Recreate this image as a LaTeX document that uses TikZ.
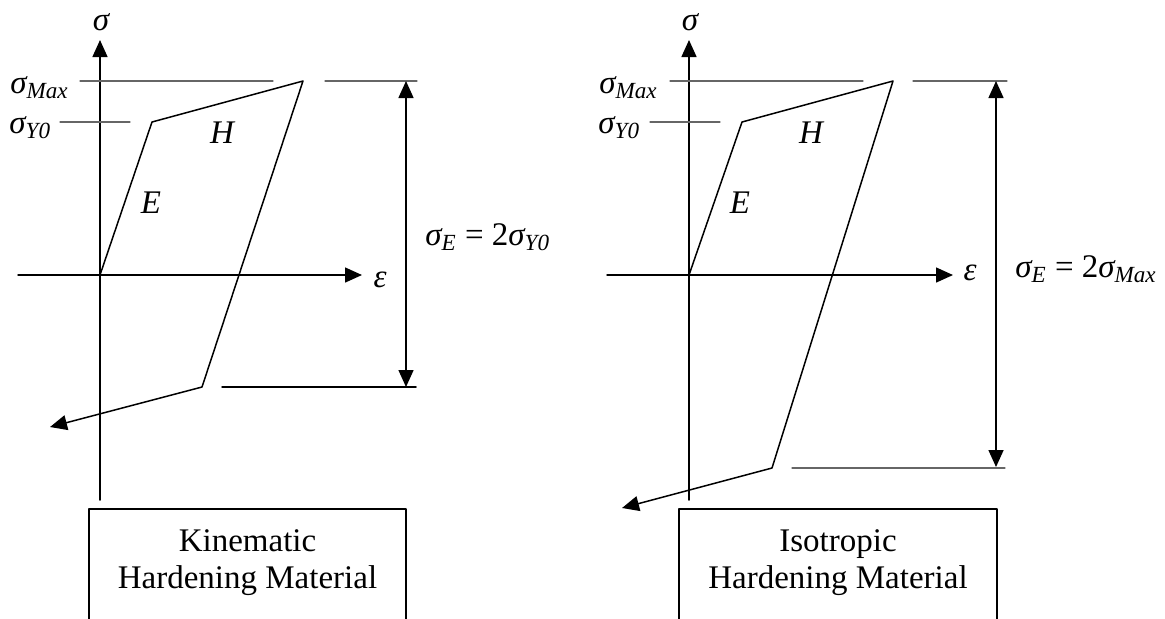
\documentclass[tikz,border=0pt]{standalone}
\usepackage{fontspec}
\setmainfont{Liberation Serif}
\usetikzlibrary{arrows.meta}

\begin{document}
\begin{tikzpicture}[
  x=0.5pt,
  y=-0.5pt,
  line cap=round,
  line join=round,
  font=\fontsize{16.5}{18.5}\selectfont,
  tip/.style={-{Triangle[length=8.5pt,width=7.5pt]}},
  axis/.style={line width=0.75pt, tip},
  curve/.style={line width=0.75pt},
  guide/.style={line width=0.6pt, black!60},
  dimline/.style={
    line width=0.75pt,
    {Triangle[length=8.5pt,width=7.5pt]}-{Triangle[length=8.5pt,width=7.5pt]}
  },
  sym/.style={inner sep=0pt, anchor=base},
  symw/.style={inner sep=0pt, anchor=base west},
  boxtext/.style={align=center, inner sep=0pt}
]
  \clip (0,0) rectangle (1165,618);

  % Kinematic hardening
  \coordinate (KO) at (100,275);
  \coordinate (KY) at (152,122);
  \coordinate (KM) at (303,81);
  \coordinate (KU) at (202,387);
  \coordinate (KT) at (50,427);

  \draw[axis] (100,500) -- (100,40);
  \draw[axis] (18,275) -- (362,275);

  \draw[guide] (80,81) -- (273,81);
  \draw[guide] (325,81) -- (417,81);
  \draw[guide] (60,122) -- (130,122);
  \draw[curve] (222,387) -- (416,387);

  \draw[curve, tip]
    (KO) -- (KY) -- (KM) -- (KU) -- (KT);

  \coordinate (KDa) at (406,81);
  \coordinate (KDb) at (406,387);
  \draw[dimline] (KDa) -- (KDb);

  \node[sym] (ksig) at (101,30) {\itshape σ};
  \node[sym] (keps) at (380,287) {\itshape ε};
  \node[symw] (kmax) at (10,93)
    {{\itshape σ}\textsubscript{\itshape Max}};
  \node[symw] (kyield) at (9,133)
    {{\itshape σ}\textsubscript{\itshape Y0}};
  \node[sym] (kH) at (222,143) {\itshape H};
  \node[sym] (kE) at (151,213) {\itshape E};
  \node[symw] (krange) at (425,245)
    {{\itshape σ}\textsubscript{\itshape E} = 2{\itshape σ}\textsubscript{\itshape Y0}};

  \draw[curve] (89,509) rectangle (406,640);
  \node[boxtext] (kbox) at (247.5,563)
    {Kinematic\\Hardening Material};

  % Isotropic hardening
  \coordinate (IO) at (689,275);
  \coordinate (IY) at (742,122);
  \coordinate (IM) at (893,81);
  \coordinate (IU) at (772,468);
  \coordinate (IT) at (622,508);

  \draw[axis] (689,500) -- (689,40);
  \draw[axis] (607,275) -- (953,275);

  \draw[guide] (670,81) -- (863,81);
  \draw[guide] (913,81) -- (1007,81);
  \draw[guide] (650,122) -- (720,122);
  \draw[guide] (792,468) -- (1005,468);

  \draw[curve, tip]
    (IO) -- (IY) -- (IM) -- (IU) -- (IT);

  \coordinate (IDa) at (996,81);
  \coordinate (IDb) at (996,467);
  \draw[dimline] (IDa) -- (IDb);

  \node[sym] (isig) at (690,30) {\itshape σ};
  \node[sym] (ieps) at (970,280) {\itshape ε};
  \node[symw] (imax) at (599,93)
    {{\itshape σ}\textsubscript{\itshape Max}};
  \node[symw] (iyield) at (598,133)
    {{\itshape σ}\textsubscript{\itshape Y0}};
  \node[sym] (iH) at (811,143) {\itshape H};
  \node[sym] (iE) at (740,213) {\itshape E};
  \node[symw] (irange) at (1015,277)
    {{\itshape σ}\textsubscript{\itshape E} = 2{\itshape σ}\textsubscript{\itshape Max}};

  \draw[curve] (679,509) rectangle (997,640);
  \node[boxtext] (ibox) at (838,563)
    {Isotropic\\Hardening Material};
\end{tikzpicture}
\end{document}
